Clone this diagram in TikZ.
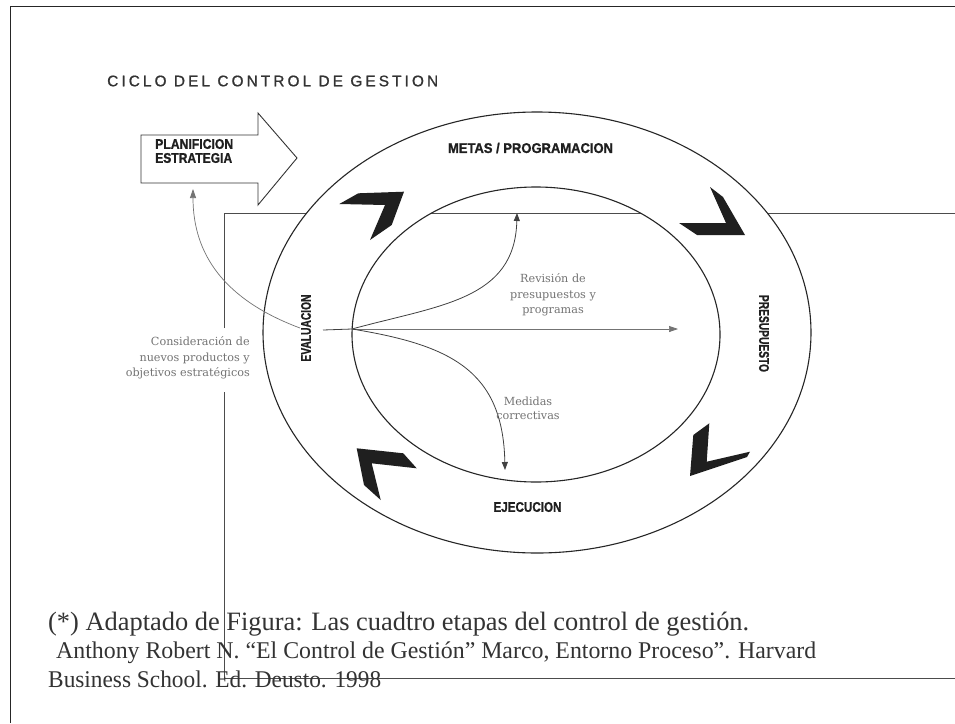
\documentclass[tikz,border=0pt]{standalone}
\usepackage{fontspec}
\setmainfont{Liberation Serif}
\newfontfamily\arialfont{Liberation Sans}
\newfontfamily\notefont{DejaVu Serif}
\usetikzlibrary{arrows.meta}
\newcommand\hfit[2]{\resizebox{#1}{\height}{#2}}
\begin{document}
\begin{tikzpicture}[x=1pt,y=-1pt,
  frameline/.style={draw=black!85, line width=1.6pt},
  boxline/.style={draw=black!70, line width=0.8pt},
  ring/.style={draw=black!85, line width=1.1pt},
  chev/.style={fill=black!88},
  stage/.style={font=\arialfont\bfseries\fontsize{14}{14}\selectfont\addfontfeature{FakeBold=1.2}, text=black!88, inner sep=0pt},
  note/.style={font=\notefont\fontsize{11.2}{15.5}\selectfont, text=black!55, inner sep=0pt},
  garrow/.style={draw=black!55, line width=0.7pt, -{Triangle[length=9pt,width=6pt]}},
  darrow/.style={draw=black!75, line width=0.8pt, -{Triangle[length=8pt,width=6pt]}},
  foot/.style={text=black!80, inner sep=0pt, anchor=base west}]

\useasboundingbox (0,0) rectangle (955,723);
\fill[white] (0,0) rectangle (955,723);

% outer page frame
\draw[frameline] (10.5,723) -- (10.5,6.5) -- (955,6.5);

% inner rectangle lines
\draw[boxline] (224,328) -- (224,213) -- (955,213);
\draw[boxline] (224,392) -- (224,678) -- (955,678);

% ring
\fill[white, even odd rule] (537,332.5) ellipse [x radius=274, y radius=220.5]
                            (536,334.5) ellipse [x radius=184, y radius=147.5];
\draw[ring] (537,332.5) ellipse [x radius=274, y radius=220.5];
\draw[ring] (536,334.5) ellipse [x radius=184, y radius=147.5];

% title
\node[anchor=west, inner sep=0pt, text=black!80,
      font=\arialfont\fontsize{15.4}{16}\selectfont\addfontfeature{LetterSpace=20,FakeBold=0.9}] (title) at (107,81) {CICLO DEL CONTROL DE GESTION};

% planification arrow
\draw[line width=0.9pt, draw=black!80, fill=white] (141,135) -- (258,135) -- (258,113) -- (297,158) -- (258,205) -- (258,183) -- (141,183) -- cycle;
\node[stage, anchor=west] (plan1) at (155,144) {\hfit{78pt}{PLANIFICION}};
\node[stage, anchor=west] (plan2) at (155,158) {\hfit{77pt}{ESTRATEGIA}};
\coordinate (planin) at (193,189);

% stage labels
\node[stage] (metas) at (530.5,148) {\hfit{165pt}{METAS / PROGRAMACION}};
\node[stage, rotate=-90] (presu) at (764,333.5) {\hfit{77pt}{PRESUPUESTO}};
\node[stage] (ejec) at (527.5,507) {\hfit{68pt}{EJECUCION}};
\node[stage, rotate=90] (eval) at (306,328) {\hfit{67pt}{EVALUACION}};

% chevrons
\fill[chev] (339.3,204) -- (358.3,193.3) -- (404,191.7) -- (391.7,225) -- (370,240) -- (385,205) -- cycle;
\fill[chev] (710,187) -- (723,197) -- (745,235) -- (697,235) -- (679,223) -- (726,223) -- cycle;
\fill[chev] (709.3,423.3) -- (693.3,435) -- (690,476) -- (747,457) -- (750,451.7) -- (706.7,461.7) -- cycle;
\fill[chev] (356.7,448.3) -- (403.3,453.3) -- (416.7,468.3) -- (371.7,463.3) -- (380.7,500) -- (364,485) -- cycle;

% arrows
\coordinate (evalout) at (323,330);
\coordinate (hub) at (352,329);
\coordinate (revend) at (678,329);
\coordinate (metasin) at (517,213);
\coordinate (ejecin) at (505,470);
\coordinate (evalleft) at (300,328);
\draw[darrow, -] (evalout) -- (hub);
\draw[garrow] (hub) -- (revend);
\draw[darrow] (hub) .. controls (440,305) and (515,300) .. (metasin);
\draw[darrow] (hub) .. controls (450,345) and (503,370) .. (ejecin);
\draw[garrow] (evalleft) .. controls (225,300) and (193,255) .. (planin);

% notes
\node[note, align=right, anchor=east] (consid) at (250,358) {Consideración de\\nuevos productos y\\objetivos estratégicos};
\node[note, align=center] (revis) at (553,295) {Revisión de\\presupuestos y\\programas};
\node[note, align=center, font=\notefont\fontsize{11.2}{13.5}\selectfont] (medid) at (528,408.5) {Medidas\\correctivas};

% footer
\node[foot, font=\fontsize{26.5}{28}\selectfont] (f1) at (48,630) {\hfit{701pt}{(*) Adaptado de Figura: Las cuadtro etapas del control de gestión.}};
\node[foot, font=\fontsize{24}{26}\selectfont] (f2) at (56,658) {\hfit{760pt}{Anthony Robert N. “El Control de Gestión” Marco, Entorno Proceso”. Harvard}};
\node[foot, font=\fontsize{24}{26}\selectfont] (f3) at (48,687) {\hfit{333pt}{Business School. Ed. Deusto. 1998}};
\end{tikzpicture}
\end{document}
